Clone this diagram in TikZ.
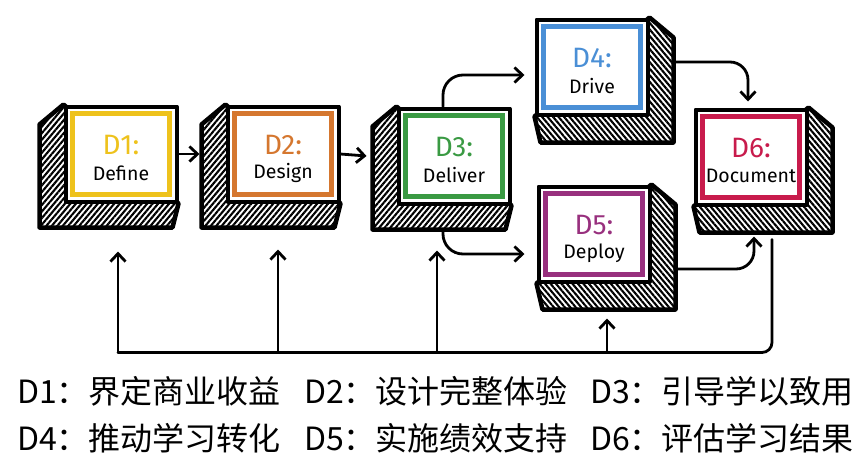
\documentclass[tikz,border=0pt]{standalone}
\usepackage{fontspec}
\setmainfont{Fira Sans}
\newfontfamily\cjk{Noto Sans CJK SC}
\usetikzlibrary{calc,arrows.meta,patterns.meta,backgrounds}
\definecolor{cA}{HTML}{EEC21C}
\definecolor{cB}{HTML}{D5772F}
\definecolor{cC}{HTML}{3A9A43}
\definecolor{cD}{HTML}{4A8FD6}
\definecolor{cE}{HTML}{98307E}
\definecolor{cF}{HTML}{C81B4C}
\tikzset{
  front/.style={draw=black, line width=4pt, fill=white, minimum width=111pt, minimum height=95pt, inner sep=0pt, line join=round},
  frame/.style={draw=#1, line width=4.2pt},
  extL/.style={draw=black, line width=4.5pt, line join=round, pattern={Lines[angle=50,distance=4.2pt,line width=2.1pt]}},
  extR/.style={draw=black, line width=4.5pt, line join=round, pattern={Lines[angle=-50,distance=4.2pt,line width=2.1pt]}},
  lbl/.style={font=\fontsize{28}{28}\selectfont, inner sep=0pt},
  sub/.style={font=\fontsize{19.5}{19.5}\selectfont, text=black, inner sep=0pt},
  line/.style={draw=black, line width=2.8pt, line cap=round},
  arr/.style={line, -{Straight Barb[length=8pt,width=15pt,line width=2.8pt]}},
  legend/.style={font=\cjk\fontsize{32}{32}\selectfont, anchor=west, inner sep=0pt},
}
\newcommand\blockL[5]{% name, x, y, colour, label
  \node[front] (#1) at (#2,#3) {};
  \begin{scope}[on background layer]
    \draw[extL] (#1.north west) -- ++(-24,20) -- ($(#1.south west)+(-24,24)$) -- ($(#1.south east)+(-6,24)$) -- (#1.south east) -- cycle;
  \end{scope}
  \draw[frame=#4] ($(#1.north west)+(9,9)$) rectangle ($(#1.south east)+(-9,-9)$);
  \node[lbl, text=#4] (#1l) at ($(#1.center)+(0,-9)$) {#5};
}
\newcommand\blockR[5]{%
  \node[front] (#1) at (#2,#3) {};
  \begin{scope}[on background layer]
    \draw[extR] (#1.north east) -- ++(24,20) -- ($(#1.south east)+(24,26)$) -- ($(#1.south west)+(6,26)$) -- (#1.south west) -- cycle;
  \end{scope}
  \draw[frame=#4] ($(#1.north west)+(9,9)$) rectangle ($(#1.south east)+(-9,-9)$);
  \node[lbl, text=#4] (#1l) at ($(#1.center)+(0,-9)$) {#5};
}
\begin{document}
\begin{tikzpicture}[x=1pt,y=-1pt]
\useasboundingbox (0,0) rectangle (860,464);
\blockL{d1}{121}{154}{cA}{D1:}
\node[sub] (d1s) at ($(d1.center)+(0,19)$) {Define};
\blockL{d2}{283}{154}{cB}{D2:}
\node[sub] (d2s) at ($(d2.center)+(0,19)$) {Design};
\blockL{d3}{454}{156}{cC}{D3:}
\node[sub] (d3s) at ($(d3.center)+(0,19)$) {Deliver};
\blockR{d4}{592}{67}{cD}{D4:}
\node[sub] (d4s) at ($(d4.center)+(0,19)$) {Drive};
\blockR{d5}{594}{234}{cE}{D5:}
\node[sub] (d5s) at ($(d5.center)+(0,19)$) {Deploy};
\blockR{d6}{751}{157}{cF}{D6:}
\node[sub] (d6s) at ($(d6.center)+(0,19)$) {Document};
% main flow
\draw[arr] (d1.east) -- ($(d2.west)+(-26,0)$);
\draw[arr] (d2.east) -- ($(d3.west)+(-30,0)$);
\draw[arr, rounded corners=20pt] ($(d3.north)+(-11,0)$) |- ($(d4.west)+(-10,8)$);
\draw[arr, rounded corners=20pt] ($(d3.south)+(-11,25)$) |- ($(d5.west)+(-12,20)$);
\draw[arr, rounded corners=18pt] ($(d4.east)+(25,-5)$) -| ($(d6.north)+(-3,-6)$);
\draw[arr, rounded corners=18pt] ($(d5.east)+(23,35)$) -| ($(d6.south)+(3,30)$);
% feedback
\draw[line, rounded corners=10pt] ($(d6.south)+(21,33)$) |- ($(d1.south)+(-3,149)$);
\draw[arr] ($(d1.south)+(-3,149)$) -- ($(d1.south)+(-3,48)$);
\draw[arr] ($(d2.south)+(-5,149)$) -- ($(d2.south)+(-5,46)$);
\draw[arr] ($(d3.south)+(-17,147)$) -- ($(d3.south)+(-17,45)$);
\draw[arr] ($(d5.south)+(13,67)$) -- ($(d5.south)+(13,35)$);
% legend
\node[legend] (t1) at (17,391) {D1：界定商业收益};
\node[legend] (t2) at (304,391) {D2：设计完整体验};
\node[legend] (t3) at (590,391) {D3：引导学以致用};
\node[legend] (t4) at (17,438) {D4：推动学习转化};
\node[legend] (t5) at (304,438) {D5：实施绩效支持};
\node[legend] (t6) at (590,438) {D6：评估学习结果};
\end{tikzpicture}
\end{document}
